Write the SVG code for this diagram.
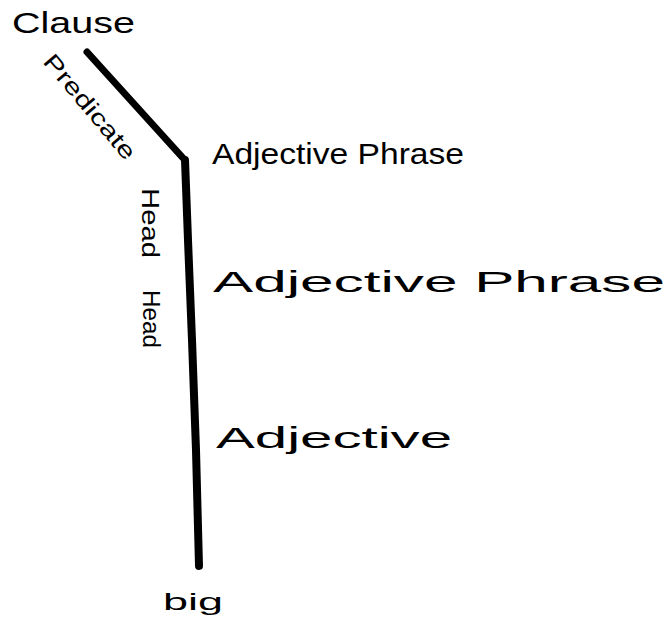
<svg xmlns="http://www.w3.org/2000/svg" width="671" height="626" viewBox="0 0 671 626">
<style>
.t{font-family:"Liberation Sans","DejaVu Sans",sans-serif;fill:#000;}
.n{font-size:29px;}
.e{font-size:23px;}
.c{fill:none;stroke:#000;stroke-linecap:round;stroke-linejoin:round;}
</style>
<rect width="671" height="626" fill="#fff"/>
<g id="connectors">
<path class="c" d="M87,52 L183,158" stroke-width="7"/>
<path class="c" d="M185,160 L188,240 L192,340 L196,450 L199,566" stroke-width="8"/>
<text class="t e" transform="translate(42,62) rotate(50)" textLength="130" lengthAdjust="spacingAndGlyphs">Predicate</text>
<text class="t e" transform="translate(142,188) rotate(90)" textLength="70" lengthAdjust="spacingAndGlyphs">Head</text>
<text class="t e" transform="translate(143,290) rotate(90)" textLength="58" lengthAdjust="spacingAndGlyphs">Head</text>
</g>
<g id="node-clause"><text class="t n" x="12" y="33" textLength="123" lengthAdjust="spacingAndGlyphs">Clause</text></g>
<g id="node-adjp1"><text class="t n" x="212" y="164" textLength="252" lengthAdjust="spacingAndGlyphs">Adjective Phrase</text></g>
<g id="node-adjp2"><text class="t n" x="213" y="292" textLength="452" lengthAdjust="spacingAndGlyphs">Adjective Phrase</text></g>
<g id="node-adj"><text class="t n" x="216" y="448" textLength="236" lengthAdjust="spacingAndGlyphs">Adjective</text></g>
<g id="node-big"><text class="t" x="163" y="610" font-size="24" textLength="60" lengthAdjust="spacingAndGlyphs">big</text></g>
</svg>
